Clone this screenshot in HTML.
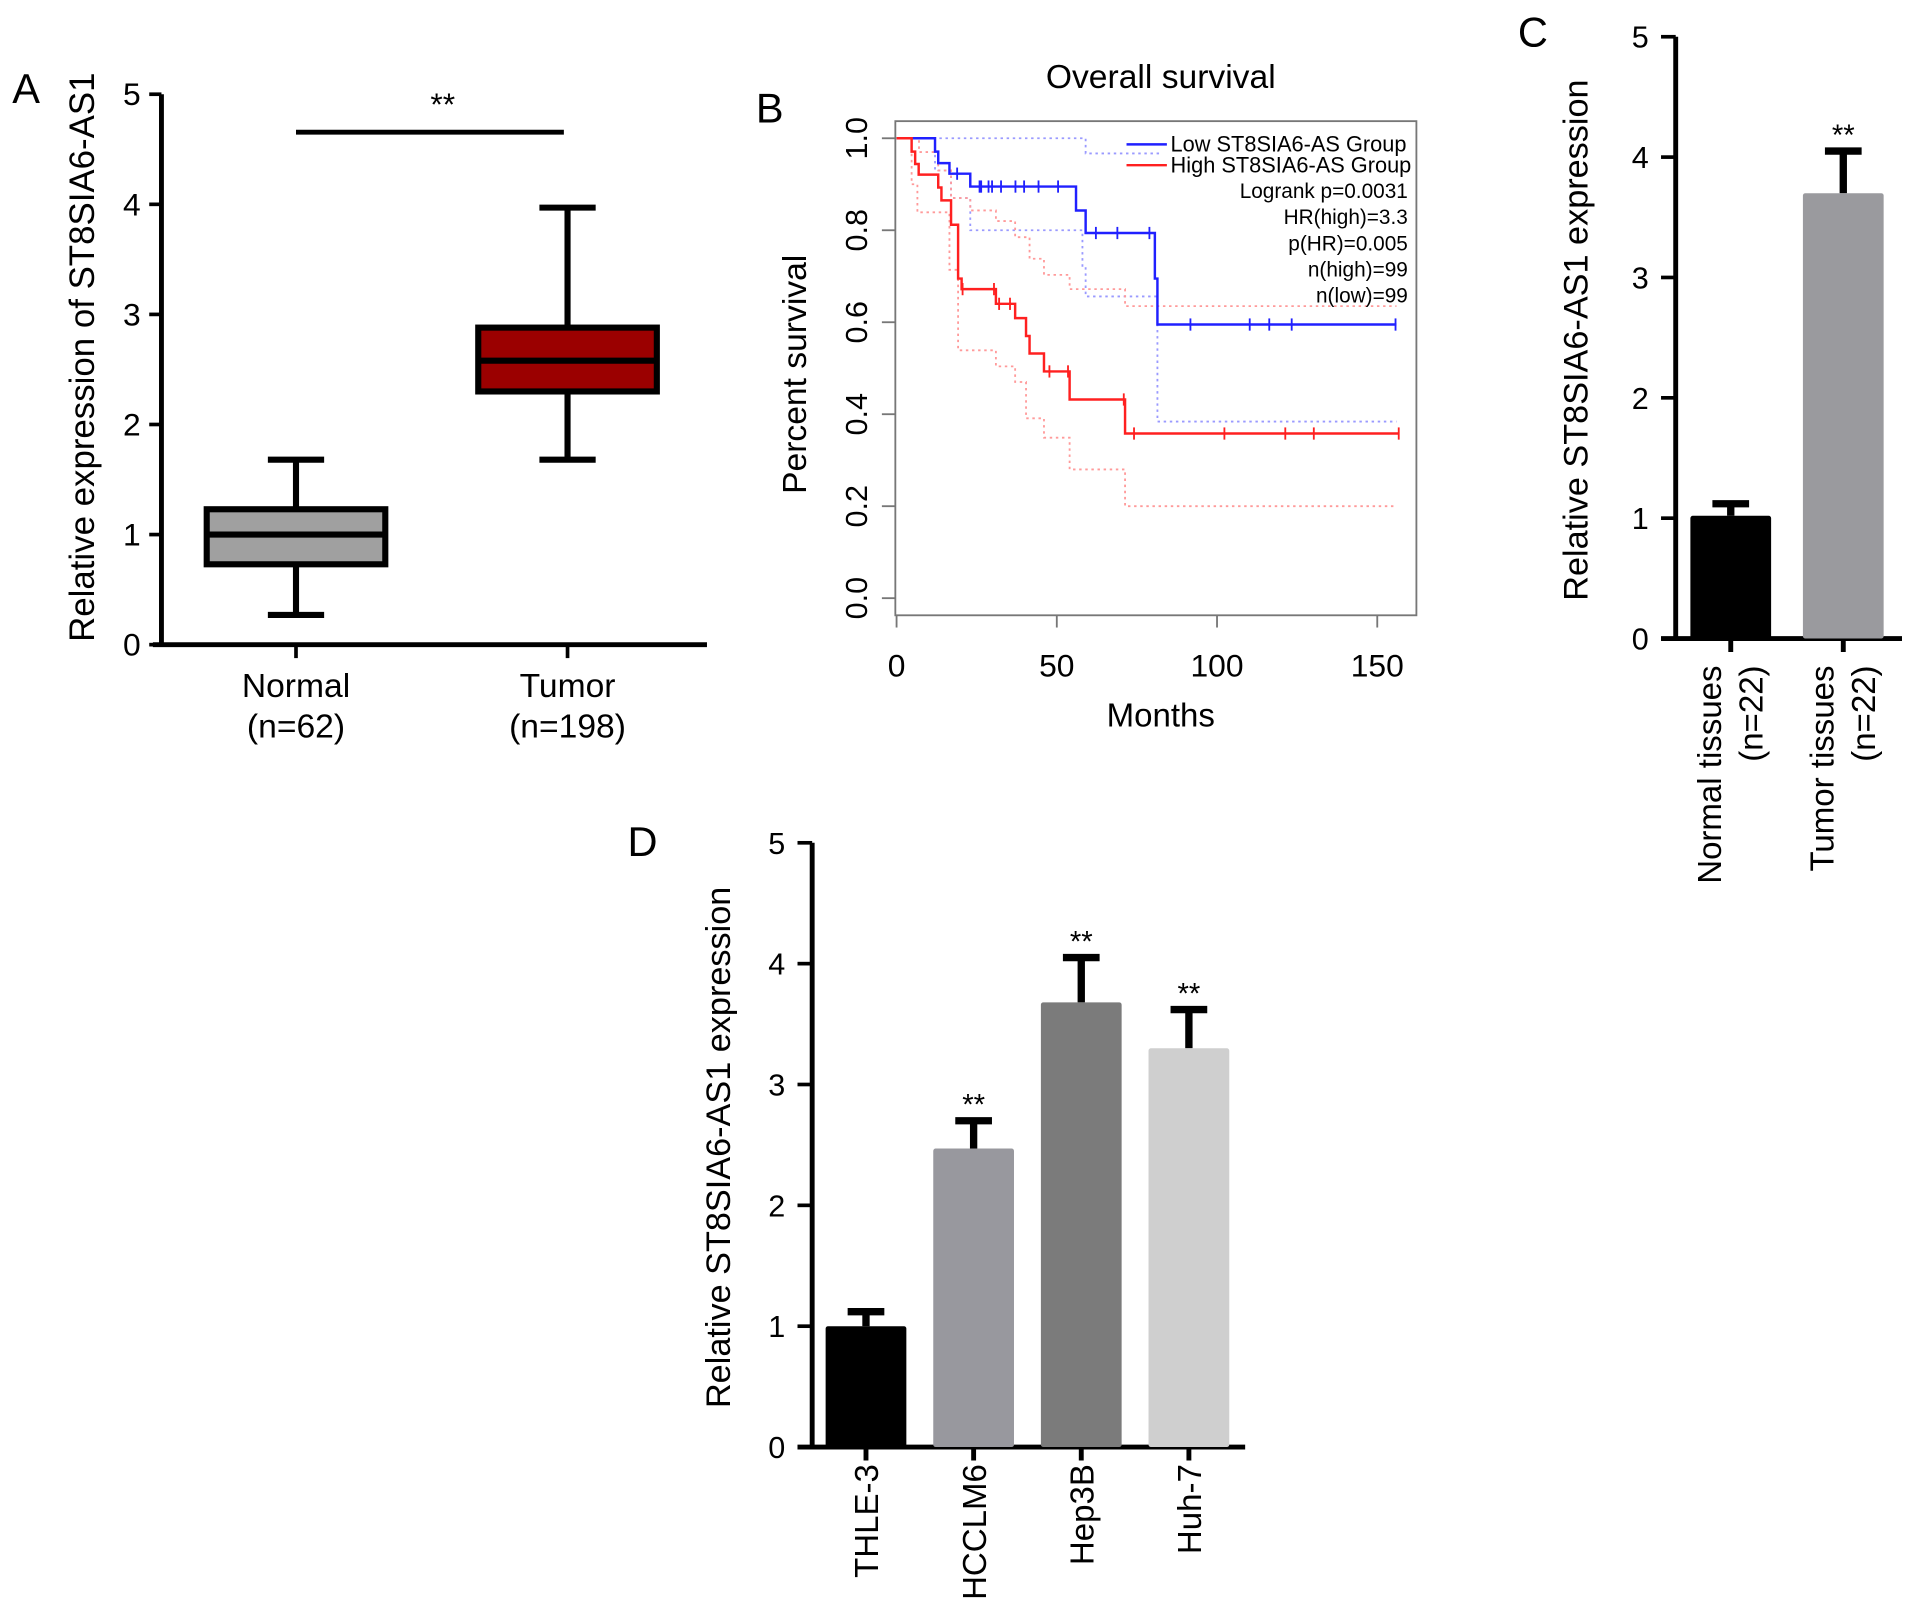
<!DOCTYPE html>
<html><head><meta charset="utf-8"><style>
html,body{margin:0;padding:0;background:#fff;}
svg{display:block;font-family:"Liberation Sans",Arial,sans-serif;}
</style></head><body>
<svg id="fig" width="1913" height="1622" viewBox="0 0 1564 1326" xmlns="http://www.w3.org/2000/svg"></svg>
<script>
// ---- Panel A data (box plot) ----
const boxCats = ["Normal","Tumor"];
const boxN = ["(n=62)","(n=198)"];
const boxMin = [0.27,1.68];
const boxQ1 = [0.73,2.30];
const boxMed = [1.0,2.58];
const boxQ3 = [1.23,2.88];
const boxMax = [1.68,3.97];
const boxFill = ["#a0a0a0","#9b0000"];
const aTicks = [0,1,2,3,4,5];
// ---- Panel B data (KM) ----
const kmXTicks = [0,50,100,150];
const kmYTicks = [0.0,0.2,0.4,0.6,0.8,1.0];
const lowT = [0,12,13,16.5,23,56,59,80.6,81.4,156];
const lowS = [1,0.971,0.946,0.923,0.895,0.843,0.794,0.695,0.595,0.595];
const lowCensor = [18.9,25.9,26.4,28.7,29.8,32.6,37.1,39.8,44.3,50.4,62.2,68.9,78.9,91.7,110.2,116.3,123.3,155.7];
const highT = [0,4.7,5.8,6.9,13,14,17,19.2,20.3,31,37,40.4,41.5,46,54,71.3,156.7];
const highS = [1,0.971,0.944,0.921,0.893,0.865,0.812,0.695,0.672,0.640,0.609,0.570,0.532,0.493,0.432,0.358,0.358];
const highCensor = [20.6,30.4,32,35.4,47.7,53.5,70.9,74.1,102.3,121.3,130.2,156.7];
const lowUpT = [0,54,59,82];
const lowUpS = [1,1,0.967,0.967];
const lowLoT = [0,12,17,23,56,58,59,80.6,81.4,156];
const lowLoS = [1,0.93,0.87,0.8,0.8,0.72,0.656,0.656,0.384,0.384];
const highUpT = [0,7,13,17,23,31,37,41.5,46,54,71.3,156];
const highUpS = [1,0.97,0.93,0.87,0.843,0.82,0.785,0.738,0.703,0.672,0.635,0.635];
const highLoT = [0,4.7,6.5,16.5,19.2,31,37,40.4,46,54,71.3,156];
const highLoS = [1,0.9,0.839,0.714,0.539,0.504,0.47,0.391,0.349,0.28,0.2,0.2];
const kmStats = ["Logrank p=0.0031","HR(high)=3.3","p(HR)=0.005","n(high)=99","n(low)=99"];
// ---- Panel C data ----
const cCats = ["Normal tissues","Tumor tissues"];
const cN = ["(n=22)","(n=22)"];
const cVals = [1.02,3.70];
const cErr = [1.12,4.05];
const cSig = ["","**"];
const cFill = ["#000","#9a9a9e"];
// ---- Panel D data ----
const dCats = ["THLE-3","HCCLM6","Hep3B","Huh-7"];
const dVals = [1.0,2.47,3.68,3.30];
const dErr = [1.12,2.70,4.05,3.62];
const dSig = ["","**","**","**"];
const dFill = ["#000","#98989e","#7b7b7b","#cfcfcf"];
const barTicks = [0,1,2,3,4,5];

const NS="http://www.w3.org/2000/svg";
const svg=document.getElementById('fig');
function el(tag,attrs,parent,text){const e=document.createElementNS(NS,tag);for(const k in attrs)e.setAttribute(k,attrs[k]);if(text!==undefined)e.textContent=text;(parent||svg).appendChild(e);return e;}
function grp(name){const g=el('g',{});return g;}

// ===== Panel A =====
(function(){
const g=grp('panel-a');
const yA=v=>527-v*90;
const xA=i=>242+i*222;
let t=el('text',{x:10,y:84,'font-size':34},g,'A');
const ax=el('path',{d:`M132 ${yA(5)} V${yA(0)} M125 ${yA(0)} H578`,stroke:'#000','stroke-width':4,fill:'none'},g);

aTicks.forEach(v=>{el('line',{x1:122,x2:132,y1:yA(v),y2:yA(v),stroke:'#000','stroke-width':3},g);
 const tt=el('text',{x:115,y:yA(v)+9,'font-size':26,'text-anchor':'end'},g,String(v));
 });
const yl=el('text',{transform:'translate(77,292) rotate(-90)','font-size':28.5,'text-anchor':'middle'},g,'Relative expression of ST8SIA6-AS1');

boxCats.forEach((c,i)=>{const cx=xA(i);
 el('line',{x1:cx,x2:cx,y1:yA(0),y2:yA(0)+11,stroke:'#000','stroke-width':3},g);
 const b=el('g',{},g);
 el('path',{d:`M${cx} ${yA(boxMax[i])} V${yA(boxQ3[i])} M${cx} ${yA(boxQ1[i])} V${yA(boxMin[i])} M${cx-23} ${yA(boxMax[i])} H${cx+23} M${cx-23} ${yA(boxMin[i])} H${cx+23}`,stroke:'#000','stroke-width':5,fill:'none'},b);
 el('rect',{x:cx-73,y:yA(boxQ3[i]),width:146,height:yA(boxQ1[i])-yA(boxQ3[i]),fill:boxFill[i],stroke:'#000','stroke-width':5},b);
 el('line',{x1:cx-73,x2:cx+73,y1:yA(boxMed[i]),y2:yA(boxMed[i]),stroke:'#000','stroke-width':5},b);
 const l1=el('text',{x:cx,y:570,'font-size':27.5,'text-anchor':'middle'},g,c);
 const l2=el('text',{x:cx,y:603,'font-size':27.5,'text-anchor':'middle'},g,boxN[i]);
});
const s=el('line',{x1:242,x2:461,y1:108,y2:108,stroke:'#000','stroke-width':4},g);
const st=el('text',{x:362,y:94,'font-size':26,'text-anchor':'middle'},g,'**');
})();

// ===== Panel B =====
(function(){
const g=grp('panel-b');
const xB=m=>733+m*2.62;
const yB=s=>489-s*376;
let t=el('text',{x:618,y:100,'font-size':34},g,'B');
const ti=el('text',{x:949,y:72,'font-size':27.5,'text-anchor':'middle'},g,'Overall survival');
const fr=el('rect',{x:732,y:99,width:426,height:404,fill:'none',stroke:'#777','stroke-width':1.5},g);
kmYTicks.forEach(v=>{el('line',{x1:721,x2:732,y1:yB(v),y2:yB(v),stroke:'#777','stroke-width':1.5},g);
 const tt=el('text',{transform:`translate(709,${yB(v)}) rotate(-90)`,'font-size':25,'text-anchor':'middle'},g,v.toFixed(1));
 });
kmXTicks.forEach(v=>{el('line',{x1:xB(v),x2:xB(v),y1:503,y2:513,stroke:'#777','stroke-width':1.5},g);
 const tt=el('text',{x:xB(v),y:553,'font-size':26,'text-anchor':'middle'},g,String(v));
 });
const xt=el('text',{x:949,y:594,'font-size':27,'text-anchor':'middle'},g,'Months');
const yt=el('text',{transform:'translate(659,306) rotate(-90)','font-size':27.5,'text-anchor':'middle'},g,'Percent survival');
function step(T,S){let d=`M${xB(T[0])} ${yB(S[0])}`;for(let i=1;i<T.length;i++){d+=` H${xB(T[i])} V${yB(S[i])}`;}return d;}
function sAt(T,S,m){let s=S[0];for(let i=0;i<T.length;i++){if(T[i]<=m)s=S[i];}return s;}
const bands=[[lowUpT,lowUpS,'#9a9aff','low-upper-ci'],[lowLoT,lowLoS,'#9a9aff','low-lower-ci'],[highUpT,highUpS,'#ff9a9a','high-upper-ci'],[highLoT,highLoS,'#ff9a9a','high-lower-ci']];
bands.forEach(b=>{const p=el('path',{d:step(b[0],b[1]),stroke:b[2],'stroke-width':1.5,'stroke-dasharray':'2 3',fill:'none'},g);
 });
[[lowT,lowS,lowCensor,'#2020ff','low-group-curve'],[highT,highS,highCensor,'#ff2020','high-group-curve']].forEach(c=>{
 const p=el('path',{d:step(c[0],c[1]),stroke:c[3],'stroke-width':2,fill:'none'},g);
 
 c[2].forEach(m=>{const y=yB(sAt(c[0],c[1],m));const cm=el('line',{x1:xB(m),x2:xB(m),y1:y-5,y2:y+5,stroke:c[3],'stroke-width':1.5},g);
  });
});
const lg=el('g',{},g);
[['Low ST8SIA6-AS Group','#2020ff',118],['High ST8SIA6-AS Group','#ff2020',135]].forEach(e=>{
 const le=el('g',{},lg);
 el('line',{x1:921,x2:954,y1:e[2],y2:e[2],stroke:e[1],'stroke-width':2},le);
 el('text',{x:957,y:e[2]+6,'font-size':17.8},le,e[0]);});
kmStats.forEach((s,i)=>{const tt=el('text',{x:1151,y:162+i*21.3,'font-size':17,'text-anchor':'end'},g,s);
 });
})();

// ===== Bar panels =====
function barPanel(name,letter,lx,ly,axX,y5,y0,xEnd,cats,vals,errs,sig,fills,centers,bw,ylabel,ylx,yly,labelFn){
 const g=grp(name);
 const ys=v=>y0-v*(y0-y5)/5;
 let t=el('text',{x:lx,y:ly,'font-size':34},g,letter);
 const ax=el('path',{d:`M${axX} ${y5} V${y0} M${axX-12} ${y0} H${xEnd}`,stroke:'#000','stroke-width':4,fill:'none'},g);
 
 barTicks.forEach(v=>{el('line',{x1:axX-12,x2:axX,y1:ys(v),y2:ys(v),stroke:'#000','stroke-width':3},g);
  const tt=el('text',{x:axX-22,y:ys(v)+9,'font-size':25,'text-anchor':'end'},g,String(v));
  });
 const yl=el('text',{transform:`translate(${ylx},${yly}) rotate(-90)`,'font-size':28,'text-anchor':'middle'},g,ylabel);
 
 cats.forEach((c,i)=>{const cx=centers[i];
  el('line',{x1:cx,x2:cx,y1:y0,y2:y0+11,stroke:'#000','stroke-width':4},g);
  const eb=el('path',{d:`M${cx} ${ys(vals[i])} V${ys(errs[i])} M${cx-15} ${ys(errs[i])} H${cx+15}`,stroke:'#000','stroke-width':6,fill:'none'},g);
  
  const r=el('rect',{x:cx-bw/2,y:ys(vals[i]),width:bw,height:y0-ys(vals[i]),fill:fills[i],rx:2},g);
  
  if(sig[i]){const st=el('text',{x:cx,y:ys(errs[i])-5,'font-size':24,'text-anchor':'middle'},g,sig[i]);
   }
  labelFn(g,c,i,cx,y0);
 });
}
barPanel('panel-c','C',1241,38,1370,30,522,1555,cCats,cVals,cErr,cSig,cFill,[1415,1507],66,'Relative ST8SIA6-AS1 expression',1298,278,
 (g,c,i,cx,y0)=>{
  const a=el('text',{transform:`translate(${cx-8},${y0+22}) rotate(-90)`,'font-size':27,'text-anchor':'end'},g,c);
  
  const b=el('text',{transform:`translate(${cx+26},${y0+22}) rotate(-90)`,'font-size':27,'text-anchor':'end'},g,cN[i]);
  
 });
barPanel('panel-d','D',513,700,664,689,1183,1018,dCats,dVals,dErr,dSig,dFill,[708,796,884,972],66,'Relative ST8SIA6-AS1 expression',597,938,
 (g,c,i,cx,y0)=>{
  const a=el('text',{transform:`translate(${cx+10},${y0+14}) rotate(-90)`,'font-size':27,'text-anchor':'end'},g,c);
  
 });
</script>
</body></html>
